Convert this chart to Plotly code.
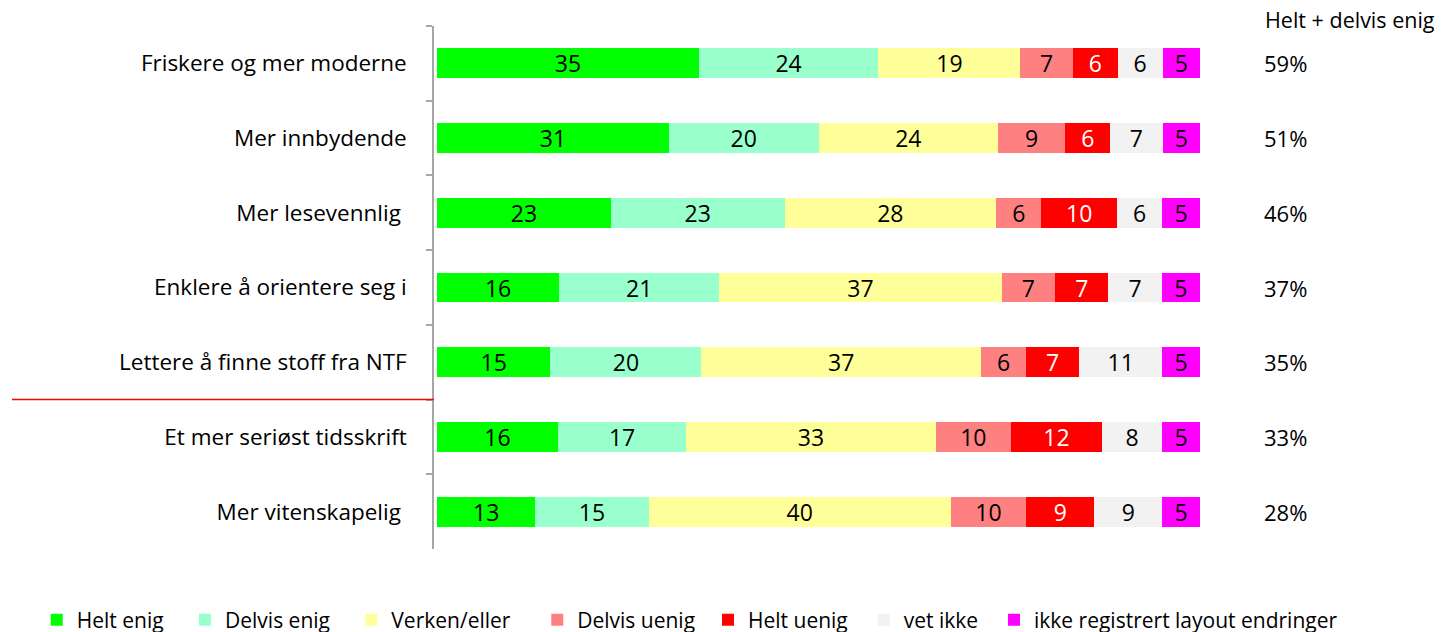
import plotly.graph_objects as go

categories = [
    "Friskere og mer moderne",
    "Mer innbydende",
    "Mer lesevennlig ",
    "Enklere å orientere seg i",
    "Lettere å finne stoff fra NTF",
    "Et mer seriøst tidsskrift",
    "Mer vitenskapelig ",
]
series_names = ["Helt enig", "Delvis enig", "Verken/eller", "Delvis uenig",
                "Helt uenig", "vet ikke", "ikke registrert layout endringer"]
helt_enig = [35, 31, 23, 16, 15, 16, 13]
delvis_enig = [24, 20, 23, 21, 20, 17, 15]
verken_eller = [19, 24, 28, 37, 37, 33, 40]
delvis_uenig = [7, 9, 6, 7, 6, 10, 10]
helt_uenig = [6, 6, 10, 7, 7, 12, 9]
vet_ikke = [6, 7, 6, 7, 11, 8, 9]
ikke_reg = [5, 5, 5, 5, 5, 5, 5]
helt_delvis = ["59%", "51%", "46%", "37%", "35%", "33%", "28%"]

series_values = [helt_enig, delvis_enig, verken_eller, delvis_uenig, helt_uenig, vet_ikke, ikke_reg]
colors = ["#00FF00", "#99FFCC", "#FFFF99", "#FF8080", "#FF0000", "#F2F2F2", "#FF00FF"]
text_colors = ["black", "black", "black", "black", "white", "black", "black"]
legend_ids = ["legend", "legend", "legend", "legend", "legend2", "legend2", "legend2"]

FONT = "Open Sans"
PADS = ["\u00a0\u00a0\u00a0", "\u00a0\u00a0\u00a0", "\u00a0\u00a0\u00a0\u00a0", "", "\u00a0\u00a0", "\u00a0\u00a0", ""]

fig = go.Figure()
for name, vals, col, tc, lg, pad in zip(series_names, series_values, colors, text_colors, legend_ids, PADS):
    fig.add_trace(go.Bar(
        y=categories, x=vals, name=name + pad, orientation="h",
        marker=dict(color=col, line=dict(width=0)),
        text=[str(v) for v in vals], texttemplate="%{text}",
        textposition="inside", insidetextanchor="middle", textangle=0,
        textfont=dict(family=FONT, size=23, color=tc),
        constraintext="none", legend=lg,
    ))

for cat, pct in zip(categories, helt_delvis):
    fig.add_annotation(x=1.112, xref="paper", y=cat, yref="y", text=pct,
                       showarrow=False, font=dict(family=FONT, size=22, color="black"),
                       xanchor="center", yanchor="middle")

fig.add_annotation(x=1.196, xref="paper", y=1.0115, yref="paper", text="Helt + delvis enig",
                   showarrow=False, font=dict(family=FONT, size=21.5, color="black"),
                   xanchor="center", yanchor="middle")

fig.add_shape(type="line", xref="paper", yref="y", x0=-0.551, x1=0, y0=4.5, y1=4.5,
              line=dict(color="#FF0000", width=1.5))

legend_style = dict(orientation="h", xanchor="left", y=-0.1358, yanchor="middle",
                    font=dict(family=FONT, size=21, color="black"),
                    itemwidth=30, traceorder="normal", bgcolor="rgba(0,0,0,0)")

fig.update_layout(
    width=1450, height=632,
    margin=dict(l=426, r=258, t=18, b=91, autoexpand=False),
    barmode="stack", barnorm="percent", bargap=0.6,
    plot_bgcolor="white", paper_bgcolor="white",
    font=dict(family=FONT, size=20, color="black"),
    showlegend=True,
    legend=dict(x=-0.5186, **legend_style),
    legend2=dict(x=0.3577, **legend_style),
    uniformtext=dict(mode=False),
)
fig.update_xaxes(range=[-0.4, 100], visible=False, showgrid=False, zeroline=False)
fig.update_yaxes(autorange="reversed", type="category", showline=True, linecolor="#A6A6A6",
                 linewidth=1.5, ticks="outside", tickson="boundaries", ticklen=6,
                 tickcolor="#A6A6A6", tickwidth=1.5, showgrid=False,
                 ticklabelstandoff=21, tickfont=dict(family=FONT, size=22.5, color="black"))

fig.write_html("out.html")
